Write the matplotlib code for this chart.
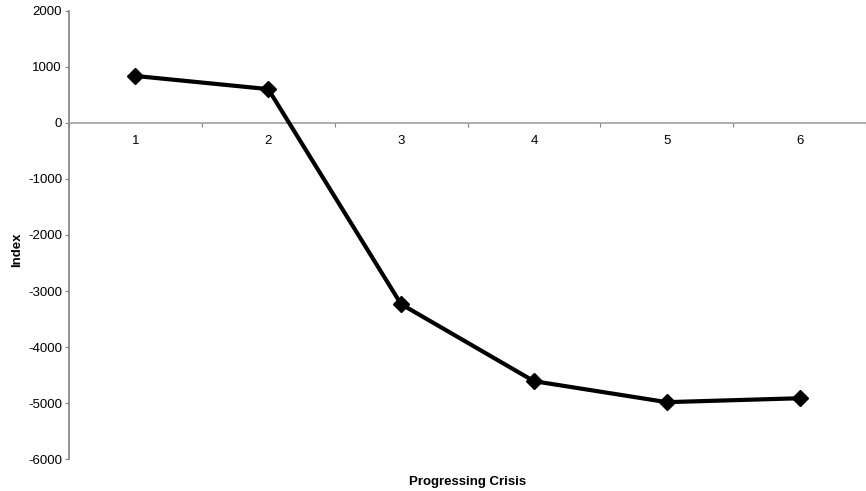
import numpy as np
import matplotlib.pyplot as plt
from matplotlib.ticker import FixedLocator, NullFormatter

plt.rcParams['font.family'] = ['Liberation Sans', 'DejaVu Sans']

stages = [1, 2, 3, 4, 5, 6]
index_vals = [840, 605, -3235, -4610, -4985, -4915]
yticks = [2000, 1000, 0, -1000, -2000, -3000, -4000, -5000, -6000]

fig = plt.figure(figsize=(8.66, 4.91), dpi=100)
ax = fig.add_axes([69/866, 1 - 459/491, 1 - 69/866, 448/491])

ax.plot(stages, index_vals, color='black', lw=3, marker='D', ms=8.5,
        markerfacecolor='black', markeredgecolor='black', zorder=3)

ax.set_xlim(0.5, 6.5)
ax.set_ylim(-6000, 2000)
ax.set_yticks(yticks)
ax.set_yticklabels([str(v) for v in yticks], fontsize=9.5)

# x axis drawn along zero
for s in ['top', 'right']:
    ax.spines[s].set_visible(False)
ax.spines['bottom'].set_position(('data', 0))
ax.spines['bottom'].set_color('#a0a0a0')
ax.spines['bottom'].set_linewidth(1.2)
ax.spines['left'].set_color('#808080')
ax.spines['left'].set_linewidth(1.2)

ax.xaxis.set_major_locator(FixedLocator(np.arange(0.5, 7, 1)))
ax.xaxis.set_major_formatter(NullFormatter())
ax.xaxis.set_minor_locator(FixedLocator(stages))
ax.set_xticklabels([str(s) for s in stages], minor=True, fontsize=9.5)
ax.tick_params(axis='x', which='major', direction='out', length=3, color='#808080')
ax.tick_params(axis='x', which='minor', length=0, pad=9)
ax.tick_params(axis='y', direction='out', length=3, color='#808080', pad=2)

ax.set_xlabel('Progressing Crisis', fontsize=9.5, fontweight='bold')
ax.xaxis.set_label_coords(0.5, -0.038)
ax.set_ylabel('Index', fontsize=9.5, fontweight='bold')
ax.yaxis.set_label_coords(-0.058, 0.466)

fig.savefig('out.png', dpi=100)
